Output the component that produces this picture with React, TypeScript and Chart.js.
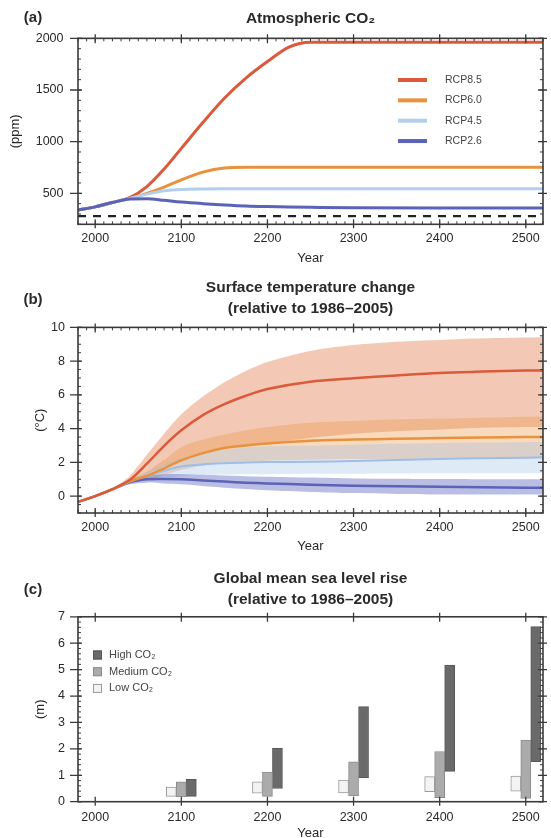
import React, { useEffect, useRef } from 'react';
import { Chart, registerables } from 'chart.js';

Chart.register(...registerables);

// ------------------------------------------------------------------ data
const X_TICKS = [2000, 2100, 2200, 2300, 2400, 2500];

// (a) Atmospheric CO2 (ppm)
const CO2_LABELS = ['RCP8.5', 'RCP6.0', 'RCP4.5', 'RCP2.6'];
const CO2_YEARS = [1980, 2000, 2020, 2040, 2060, 2080, 2100, 2125, 2150, 2175, 2200, 2225, 2250, 2300, 2400, 2500, 2520];
const CO2_RCP85 = [338, 369, 412, 458, 565, 735, 935, 1185, 1420, 1615, 1775, 1915, 1962, 1962, 1962, 1962, 1962];
const CO2_RCP60 = [338, 369, 411, 450, 500, 560, 630, 705, 745, 752, 752, 752, 752, 752, 752, 752, 752];
const CO2_RCP45 = [338, 369, 411, 450, 492, 525, 538, 542, 543, 543, 543, 543, 543, 543, 543, 543, 543];
const CO2_RCP26 = [338, 369, 411, 445, 448, 432, 415, 400, 388, 378, 372, 368, 365, 360, 358, 358, 358];
const CO2_PREINDUSTRIAL = [280, 280];
const CO2_PREINDUSTRIAL_YEARS = [1980, 2520];
const CO2_TICKS = [500, 1000, 1500, 2000];

// (b) Surface temperature change (°C)
const T_YEARS = [1980, 2000, 2020, 2040, 2060, 2080, 2100, 2125, 2150, 2175, 2200, 2250, 2300, 2350, 2400, 2450, 2500, 2520];
const T_RCP85_MEAN = [-0.34, 0.0, 0.42, 0.95, 1.92, 2.98, 3.9, 4.8, 5.45, 5.95, 6.35, 6.78, 6.98, 7.15, 7.3, 7.38, 7.45, 7.45];
const T_RCP85_HI = [-0.34, 0.0, 0.46, 1.2, 2.45, 3.7, 4.85, 5.9, 6.75, 7.42, 7.95, 8.6, 8.95, 9.15, 9.25, 9.35, 9.4, 9.42];
const T_RCP85_LO = [-0.34, 0.0, 0.38, 0.8, 1.3, 1.75, 2.1, 2.5, 2.8, 3.0, 3.15, 3.45, 3.7, 3.85, 3.95, 4.05, 4.1, 4.1];
const T_RCP60_MEAN = [-0.34, 0.0, 0.4, 0.88, 1.2, 1.65, 2.12, 2.55, 2.85, 3.0, 3.12, 3.28, 3.35, 3.4, 3.44, 3.47, 3.5, 3.5];
const T_RCP60_HI = [-0.34, 0.0, 0.44, 0.98, 1.45, 2.15, 2.9, 3.35, 3.65, 3.9, 4.1, 4.35, 4.45, 4.55, 4.6, 4.65, 4.7, 4.72];
const T_RCP60_LO = [-0.34, 0.0, 0.36, 0.78, 0.98, 1.25, 1.55, 1.8, 1.95, 2.05, 2.1, 2.15, 2.2, 2.2, 2.22, 2.24, 2.25, 2.25];
const T_RCP45_MEAN = [-0.34, 0.0, 0.4, 0.85, 1.2, 1.5, 1.75, 1.88, 1.95, 2.0, 2.02, 2.04, 2.08, 2.14, 2.2, 2.25, 2.28, 2.3];
const T_RCP45_HI = [-0.34, 0.0, 0.44, 0.95, 1.45, 1.9, 2.25, 2.55, 2.75, 2.88, 2.95, 3.0, 3.05, 3.1, 3.15, 3.18, 3.2, 3.2];
const T_RCP45_LO = [-0.34, 0.0, 0.36, 0.75, 0.95, 1.1, 1.2, 1.25, 1.28, 1.3, 1.3, 1.32, 1.33, 1.34, 1.35, 1.35, 1.35, 1.35];
const T_RCP26_MEAN = [-0.34, 0.0, 0.4, 0.82, 1.0, 1.02, 1.0, 0.93, 0.86, 0.8, 0.75, 0.68, 0.62, 0.58, 0.55, 0.52, 0.5, 0.5];
const T_RCP26_HI = [-0.34, 0.0, 0.44, 0.95, 1.2, 1.3, 1.3, 1.26, 1.22, 1.18, 1.15, 1.1, 1.05, 1.03, 1.01, 1.0, 1.0, 1.0];
const T_RCP26_LO = [-0.34, 0.0, 0.36, 0.7, 0.8, 0.75, 0.7, 0.6, 0.5, 0.42, 0.35, 0.25, 0.18, 0.13, 0.1, 0.1, 0.1, 0.1];
const T_TICKS = [0, 2, 4, 6, 8, 10];

// (c) Global mean sea level rise (m), ranges [min, max]
const SLR_LABELS = ['Low CO₂', 'Medium CO₂', 'High CO₂'];
const SLR_YEARS = [2100, 2200, 2300, 2400, 2500];
const SLR_LOW = [[0.2, 0.55], [0.32, 0.75], [0.33, 0.82], [0.38, 0.95], [0.4, 0.97]];
const SLR_MEDIUM = [[0.18, 0.75], [0.2, 1.12], [0.22, 1.51], [0.15, 1.9], [0.12, 2.33]];
const SLR_HIGH = [[0.2, 0.85], [0.5, 2.02], [0.9, 3.6], [1.15, 5.17], [1.52, 6.63]];
const SLR_TICKS = [0, 1, 2, 3, 4, 5, 6, 7];

// ------------------------------------------------------------------ styles
const W = 551;
const FAMILY = '"Liberation Sans", Arial, sans-serif';
const TICK_FONT = { family: FAMILY, size: 12.5 };
const AXIS_FONT = { family: FAMILY, size: 13 };
const TITLE_FONT = { family: FAMILY, size: 15.5, weight: 'bold' as const, lineHeight: 1.39 };
const TEXT = '#2a2a2a';

const C85 = '#dc5a3c';
const C60 = '#e8923e';
const C45 = '#b3cff0';
const C26 = '#5b63b7';

Chart.defaults.font.family = FAMILY;

const pts = (xs: number[], ys: number[]) => xs.map((x, i) => ({ x, y: ys[i] }));

function xScale(height: number, pad: number) {
  return {
    type: 'linear',
    min: 1980,
    max: 2520,
    offset: false,
    grid: { display: false, drawTicks: false, offset: false },
    border: { display: false },
    afterBuildTicks: (s: any) => {
      s.ticks = X_TICKS.map((v) => ({ value: v }));
    },
    afterFit: (s: any) => {
      s.height = height;
    },
    ticks: { padding: pad, font: TICK_FONT, color: TEXT, maxRotation: 0, autoSkip: false, callback: (v: any) => String(v) },
    title: { display: true, text: 'Year', font: AXIS_FONT, color: TEXT, padding: { top: 0, bottom: 0 } },
  };
}

function yScale(min: number, max: number, ticks: number[], text: string, titlePad: number, tickPad: number) {
  return {
    type: 'linear',
    min,
    max,
    grid: { display: false, drawTicks: false },
    border: { display: false },
    afterBuildTicks: (s: any) => {
      s.ticks = ticks.map((v) => ({ value: v }));
    },
    afterFit: (s: any) => {
      s.width = 78;
    },
    ticks: { padding: tickPad, font: TICK_FONT, color: TEXT, autoSkip: false, callback: (v: any) => String(v) },
    title: { display: true, text, font: AXIS_FONT, color: TEXT, padding: { top: titlePad, bottom: 0 } },
  };
}

function framePlugin(key: string, label: string, labelY: number, xMinor: number, yMinor: number) {
  return {
    id: 'frame_' + key,
    afterDraw(chart: any) {
      const { ctx, chartArea: a } = chart;
      const xs = chart.scales.x;
      const ys = chart.scales.y;
      ctx.save();
      ctx.strokeStyle = '#3a3a3a';
      const minor = (scale: any, step: number, cb: (p: number) => void) => {
        if (!step) return;
        const lo = Math.ceil(scale.min / step - 1e-9);
        const hi = Math.floor(scale.max / step + 1e-9);
        for (let i = lo; i <= hi; i++) cb(scale.getPixelForValue(i * step));
      };
      ctx.lineWidth = 1;
      ctx.beginPath();
      minor(xs, xMinor, (p) => {
        ctx.moveTo(p, a.bottom);
        ctx.lineTo(p, a.bottom - 3);
        ctx.moveTo(p, a.top);
        ctx.lineTo(p, a.top + 3);
      });
      minor(ys, yMinor, (p) => {
        ctx.moveTo(a.left, p);
        ctx.lineTo(a.left + 3, p);
        ctx.moveTo(a.right, p);
        ctx.lineTo(a.right - 3, p);
      });
      ctx.stroke();
      ctx.lineWidth = 1.3;
      ctx.beginPath();
      xs.ticks.forEach((t: any) => {
        const p = xs.getPixelForValue(t.value);
        ctx.moveTo(p, a.bottom + 4);
        ctx.lineTo(p, a.bottom - 5);
        ctx.moveTo(p, a.top - 4);
        ctx.lineTo(p, a.top + 5);
      });
      ys.ticks.forEach((t: any) => {
        const p = ys.getPixelForValue(t.value);
        ctx.moveTo(a.left - 8, p);
        ctx.lineTo(a.left + 4, p);
        ctx.moveTo(a.right + 4, p);
        ctx.lineTo(a.right - 5, p);
      });
      ctx.stroke();
      ctx.lineWidth = 1.6;
      ctx.strokeRect(a.left, a.top, a.right - a.left, a.bottom - a.top);
      ctx.fillStyle = TEXT;
      ctx.font = 'bold 15px ' + FAMILY;
      ctx.textAlign = 'center';
      ctx.textBaseline = 'middle';
      ctx.fillText(label, 33, labelY);
      ctx.restore();
    },
  };
}

type LegendItem = { label: string; kind: 'line' | 'box'; color: string; stroke?: string };

function legendPlugin(key: string, items: LegendItem[], x: number, y: number, rowH: number, textX: number, fontSize: number) {
  return {
    id: 'legend_' + key,
    afterDraw(chart: any) {
      const ctx = chart.ctx;
      ctx.save();
      ctx.font = fontSize + 'px ' + FAMILY;
      ctx.textBaseline = 'middle';
      ctx.textAlign = 'left';
      items.forEach((it, i) => {
        const yy = y + i * rowH;
        if (it.kind === 'line') {
          ctx.strokeStyle = it.color;
          ctx.lineWidth = 4;
          ctx.beginPath();
          ctx.moveTo(x, yy);
          ctx.lineTo(x + 29, yy);
          ctx.stroke();
        } else {
          ctx.fillStyle = it.color;
          ctx.fillRect(x, yy - 4.5, 9, 9);
          ctx.strokeStyle = it.stroke || it.color;
          ctx.lineWidth = 1;
          ctx.strokeRect(x + 0.5, yy - 4, 8, 8);
        }
        ctx.fillStyle = '#444';
        ctx.fillText(it.label, textX, yy);
      });
      ctx.restore();
    },
  };
}

const basePlugins = (title: string | string[], pt: number, pb: number) => ({
  legend: { display: false },
  tooltip: { enabled: false },
  title: {
    display: true,
    text: title,
    fullSize: false,
    font: TITLE_FONT,
    color: TEXT,
    padding: { top: pt, bottom: pb },
  },
});

// ------------------------------------------------------------------ (a)
function buildCO2(): any {
  const line = (label: string, vals: number[], color: string, order: number) => ({
    label,
    data: pts(CO2_YEARS, vals),
    borderColor: color,
    backgroundColor: color,
    borderWidth: 3,
    pointRadius: 0,
    cubicInterpolationMode: 'monotone',
    fill: false,
    order,
  });
  const colors = [C85, C60, C45, C26];
  return {
    type: 'line',
    data: {
      datasets: [
        line(CO2_LABELS[0], CO2_RCP85, C85, 3),
        line(CO2_LABELS[1], CO2_RCP60, C60, 2),
        line(CO2_LABELS[2], CO2_RCP45, C45, 1),
        line(CO2_LABELS[3], CO2_RCP26, C26, 0),
        {
          label: 'pre-industrial',
          data: pts(CO2_PREINDUSTRIAL_YEARS, CO2_PREINDUSTRIAL),
          borderColor: '#222',
          borderWidth: 2.2,
          borderDash: [8, 7],
          pointRadius: 0,
          fill: false,
          order: 5,
        },
      ],
    },
    options: {
      responsive: false,
      animation: false,
      devicePixelRatio: 1,
      layout: { padding: { left: 0, right: 8, top: 0, bottom: 1.9 } },
      scales: {
        x: xScale(41.8, 7),
        y: yScale(200, 2000, CO2_TICKS, '(ppm)', 7.7, 14.5),
      },
      plugins: basePlugins('Atmospheric CO₂', 7.75, 9.05),
    },
    plugins: [
      framePlugin('a', '(a)', 18.3, 10, 100),
      legendPlugin(
        'a',
        CO2_LABELS.map((l, i) => ({ label: l, kind: 'line' as const, color: colors[i] })),
        398,
        80,
        20.35,
        445,
        10.5
      ),
    ],
  };
}

// ------------------------------------------------------------------ (b)
function buildTemp(): any {
  const band = (hi: number[], lo: number[], fillColor: string, order: number) => [
    {
      label: 'hi',
      data: pts(T_YEARS, hi),
      borderWidth: 0,
      pointRadius: 0,
      backgroundColor: fillColor,
      tension: 0.3,
      fill: '+1',
      order,
    },
    {
      label: 'lo',
      data: pts(T_YEARS, lo),
      borderWidth: 0,
      pointRadius: 0,
      tension: 0.3,
      fill: false,
      order,
    },
  ];
  const line = (label: string, vals: number[], color: string, width: number, order: number) => ({
    label,
    data: pts(T_YEARS, vals),
    borderColor: color,
    borderWidth: width,
    pointRadius: 0,
    tension: 0.3,
    fill: false,
    order,
  });
  return {
    type: 'line',
    data: {
      datasets: [
        ...band(T_RCP85_HI, T_RCP85_LO, 'rgba(225,120,70,0.40)', 13),
        ...band(T_RCP60_HI, T_RCP60_LO, 'rgba(235,150,70,0.35)', 12),
        ...band(T_RCP45_HI, T_RCP45_LO, 'rgba(150,185,230,0.30)', 11),
        ...band(T_RCP26_HI, T_RCP26_LO, 'rgba(90,100,190,0.42)', 10),
        line(CO2_LABELS[3], T_RCP26_MEAN, C26, 2.5, 3),
        line(CO2_LABELS[2], T_RCP45_MEAN, '#9fbde6', 2, 2),
        line(CO2_LABELS[1], T_RCP60_MEAN, C60, 2.5, 1),
        line(CO2_LABELS[0], T_RCP85_MEAN, C85, 2.5, 0),
      ],
    },
    options: {
      responsive: false,
      animation: false,
      devicePixelRatio: 1,
      layout: { padding: { left: 0, right: 8, top: 0, bottom: 3.2 } },
      scales: {
        x: xScale(40.8, 7.5),
        y: yScale(-1, 10, T_TICKS, '(°C)', 32.2, 13),
      },
      plugins: basePlugins(['Surface temperature change', '(relative to 1986–2005)'], 11.75, 7.55),
    },
    plugins: [framePlugin('b', '(b)', 35, 10, 0.5)],
  };
}

// ------------------------------------------------------------------ (c)
function buildSea(): any {
  const bars = (label: string, ranges: number[][], fill: string, stroke: string) => ({
    label,
    data: SLR_YEARS.map((x, i) => ({ x, y: ranges[i] })),
    backgroundColor: fill,
    borderColor: stroke,
    borderWidth: 1,
    borderSkipped: false,
    barThickness: 10,
  });
  const LOW_FILL = '#f3f3f3';
  const MED_FILL = '#ababab';
  const HIGH_FILL = '#6a6a6a';
  return {
    type: 'bar',
    data: {
      datasets: [
        bars(SLR_LABELS[0], SLR_LOW, LOW_FILL, '#9a9a9a'),
        bars(SLR_LABELS[1], SLR_MEDIUM, MED_FILL, '#8c8c8c'),
        bars(SLR_LABELS[2], SLR_HIGH, HIGH_FILL, '#575757'),
      ],
    },
    options: {
      responsive: false,
      animation: false,
      devicePixelRatio: 1,
      layout: { padding: { left: 0, right: 8, top: 0, bottom: 3.9 } },
      scales: {
        x: xScale(39.4, 8.5),
        y: yScale(0, 7, SLR_TICKS, '(m)', 32.2, 13),
      },
      plugins: basePlugins(['Global mean sea level rise', '(relative to 1986–2005)'], 12.55, 6.15),
    },
    plugins: [
      framePlugin('c', '(c)', 35, 0, 0.2),
      legendPlugin(
        'c',
        [
          { label: SLR_LABELS[2], kind: 'box' as const, color: HIGH_FILL, stroke: '#575757' },
          { label: SLR_LABELS[1], kind: 'box' as const, color: MED_FILL, stroke: '#8c8c8c' },
          { label: SLR_LABELS[0], kind: 'box' as const, color: LOW_FILL, stroke: '#9a9a9a' },
        ],
        93,
        100,
        16.7,
        109,
        11
      ),
    ],
  };
}

// ------------------------------------------------------------------ components
function ChartPanel({ top, height, build }: { top: number; height: number; build: () => any }) {
  const ref = useRef<HTMLCanvasElement | null>(null);
  useEffect(() => {
    if (!ref.current) return;
    const chart = new Chart(ref.current, build());
    return () => chart.destroy();
  }, []);
  return (
    <canvas
      ref={ref}
      width={W}
      height={height}
      style={{ position: 'absolute', left: 0, top, width: W, height, display: 'block' }}
    />
  );
}

export default function App() {
  return (
    <div
      style={{
        position: 'absolute',
        left: 0,
        top: 0,
        width: W,
        height: 838,
        overflow: 'hidden',
        background: '#ffffff',
      }}
    >
      <ChartPanel top={0} height={268} build={buildCO2} />
      <ChartPanel top={265} height={292} build={buildTemp} />
      <ChartPanel top={555} height={290} build={buildSea} />
    </div>
  );
}
